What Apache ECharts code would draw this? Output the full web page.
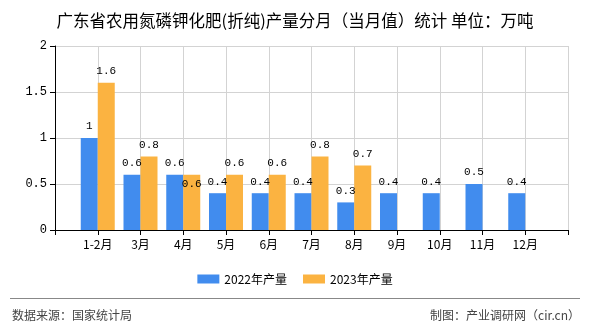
<!DOCTYPE html>
<html>
<head>
<meta charset="utf-8">
<script src="https://cdn.jsdelivr.net/npm/echarts@6/dist/echarts.min.js"></script>
<style>
html,body{margin:0;padding:0;background:#fff;}
#chart{width:590px;height:330px;}
</style>
</head>
<body>
<div id="chart"></div>
<script>
var titleText = '广东省农用氮磷钾化肥(折纯)产量分月（当月值）统计 单位：万吨';
var categories = ['1-2月','3月','4月','5月','6月','7月','8月','9月','10月','11月','12月'];
var values2022 = [1, 0.6, 0.6, 0.4, 0.4, 0.4, 0.3, 0.4, 0.4, 0.5, 0.4];
var values2023 = [1.6, 0.8, 0.6, 0.6, 0.6, 0.8, 0.7, null, null, null, null];
var seriesNames = ['2022年产量', '2023年产量'];
var yTicks = [0, 0.5, 1, 1.5, 2];
var sourceText = '数据来源：国家统计局';
var makerText = '制图：产业调研网（cir.cn）';

var chart = echarts.init(document.getElementById('chart'), null, {renderer: 'canvas'});
var cjk = '"Noto Sans CJK SC", "Noto Sans", sans-serif';
var mono = '"Liberation Mono", "DejaVu Sans Mono", monospace';

// pad with empty slots at both ends (axis ticks sit on category centres)
var xCats = [''].concat(categories, ['']);
function pad(arr) {
  var out = ['-'];
  arr.forEach(function (v) { out.push(v == null ? '-' : v); });
  out.push('-');
  return out;
}
var d2022 = pad(values2022);
var d2023 = pad(values2023).map(function (v, i) {
  if (xCats[i] === '4月' && v !== '-') {
    return {value: v, label: {position: 'insideTop', distance: 4}};
  }
  return v;
});

var barLabel = {
  show: true,
  position: 'top',
  distance: 6,
  color: '#000',
  fontSize: 11,
  fontFamily: mono
};

chart.setOption({
  animation: false,
  backgroundColor: '#fff',
  title: {
    text: titleText,
    left: 'center',
    top: 7,
    textStyle: {fontSize: 16.5, fontWeight: 'normal', color: '#000', fontFamily: cjk}
  },
  legend: {
    data: seriesNames,
    top: 268,
    left: 'center',
    itemWidth: 22,
    itemHeight: 9,
    itemGap: 16,
    icon: 'rect',
    textStyle: {fontSize: 12, color: '#000', fontFamily: cjk}
  },
  grid: {left: 55, right: 22, top: 46, bottom: 100, containLabel: false},
  xAxis: {
    type: 'category',
    data: xCats,
    boundaryGap: false,
    axisLine: {show: true, lineStyle: {color: '#000', width: 1}},
    axisTick: {show: true, interval: 0, length: 5, lineStyle: {color: '#000'}},
    axisLabel: {interval: 0, margin: 8, color: '#000', fontSize: 12, fontFamily: cjk},
    splitLine: {show: true, interval: 0, lineStyle: {color: '#d3d3d3', width: 1}}
  },
  yAxis: {
    type: 'value',
    min: yTicks[0],
    max: yTicks[yTicks.length - 1],
    interval: yTicks[1] - yTicks[0],
    axisLine: {show: true, lineStyle: {color: '#000', width: 1}},
    axisTick: {show: true, length: 5, lineStyle: {color: '#000'}},
    axisLabel: {margin: 8, color: '#000', fontSize: 12, fontFamily: mono},
    splitLine: {show: true, lineStyle: {color: '#d3d3d3', width: 1}}
  },
  series: [
    {
      name: seriesNames[0],
      type: 'bar',
      data: d2022,
      barWidth: 17,
      barGap: '0%',
      itemStyle: {color: '#418CEE'},
      label: barLabel
    },
    {
      name: seriesNames[1],
      type: 'bar',
      data: d2023,
      barWidth: 17,
      barGap: '0%',
      itemStyle: {color: '#FBB341'},
      label: barLabel
    }
  ],
  graphic: [
    {
      type: 'line',
      shape: {x1: 10, y1: 298.5, x2: 580, y2: 298.5},
      style: {stroke: '#888', lineWidth: 1}
    },
    {
      type: 'text',
      left: 12,
      top: 309,
      style: {text: sourceText, fill: '#444', fontSize: 12, fontFamily: cjk}
    },
    {
      type: 'text',
      right: 10,
      top: 309,
      style: {text: makerText, fill: '#444', fontSize: 12, fontFamily: cjk}
    }
  ]
});
</script>
</body>
</html>
